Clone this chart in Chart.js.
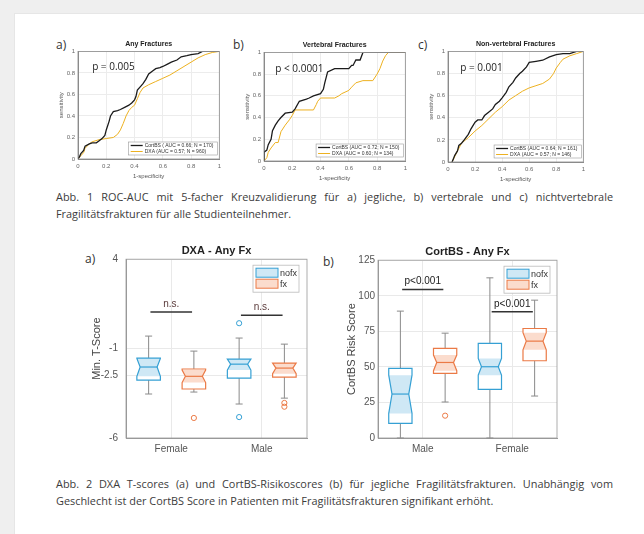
<!DOCTYPE html>
<html>
<head>
<meta charset="utf-8">
<script src="https://cdn.jsdelivr.net/npm/chart.js@4.4.0/dist/chart.umd.min.js"></script>
<style>
  body { margin:0; width:644px; height:534px; overflow:hidden; position:relative; background:#efefef; font-family:"Open Sans", sans-serif; }
  #page { position:absolute; left:14px; top:13px; width:640px; height:530px; background:#fff; border-left:1px solid #e6e6e6; border-top:1px solid #e6e6e6; }
  canvas { position:absolute; }
  .lbl { position:absolute; font-size:12px; line-height:14px; color:#333; }
  .cap { position:absolute; left:56px; width:557px; font-size:10.9px; line-height:17px; color:#3c3c3c; }
  .cap .full { text-align:justify; text-align-last:justify; }
</style>
</head>
<body>
<div id="page"></div>

<div class="lbl" style="left:56px;top:38px">a)</div>
<div class="lbl" style="left:233px;top:38px">b)</div>
<div class="lbl" style="left:418px;top:38px">c)</div>
<canvas id="rocA" width="170" height="142" style="left:55px;top:40px;width:170px;height:142px"></canvas>
<canvas id="rocB" width="170" height="143" style="left:241px;top:41px;width:170px;height:143px"></canvas>
<canvas id="rocC" width="164" height="145" style="left:425px;top:40px;width:164px;height:145px"></canvas>

<div class="cap" style="top:188px">
  <div class="full">Abb. 1 ROC-AUC mit 5-facher Kreuzvalidierung für a) jegliche, b) vertebrale und c) nichtvertebrale</div>
  <div>Fragilitätsfrakturen für alle Studienteilnehmer.</div>
</div>

<div class="lbl" style="left:85px;top:252px">a)</div>
<div class="lbl" style="left:323px;top:255px">b)</div>
<canvas id="boxDxa" width="226" height="218" style="left:86px;top:244px;width:226px;height:218px"></canvas>
<canvas id="boxCort" width="221" height="217" style="left:341px;top:245px;width:221px;height:217px"></canvas>

<div class="cap" style="top:475px">
  <div class="full">Abb. 2 DXA T-scores (a) und CortBS-Risikoscores (b) für jegliche Fragilitätsfrakturen. Unabhängig vom</div>
  <div>Geschlecht ist der CortBS Score in Patienten mit Fragilitätsfrakturen signifikant erhöht.</div>
</div>

<script>
// ---- ROC data ----
const rocTitles = ['Any Fractures', 'Vertebral Fractures', 'Non-vertebral Fractures'];
const rocPText = ['p = 0.005', 'p < 0.0001', 'p = 0.001'];
const cortLabels = ['CortBS ( AUC = 0.66; N = 170)', 'CortBS (AUC = 0.72; N = 150)', 'CortBS (AUC = 0.64; N = 161)'];
const dxaLabels = ['DXA (AUC = 0.57; N = 960)', 'DXA (AUC = 0.60; N = 134)', 'DXA (AUC = 0.57; N = 146)'];

const anyCortX = [0, 0.01, 0.02, 0.04, 0.05, 0.08, 0.1, 0.13, 0.15, 0.17, 0.19, 0.2, 0.22, 0.23, 0.25, 0.28, 0.3, 0.33, 0.36, 0.38, 0.4, 0.41, 0.42, 0.44, 0.46, 0.48, 0.5, 0.53, 0.55, 0.58, 0.6, 0.63, 0.66, 0.7, 0.73, 0.77, 0.8, 0.85, 0.88, 0.95, 1];
const anyCortY = [0, 0.02, 0.05, 0.08, 0.12, 0.14, 0.15, 0.15, 0.17, 0.19, 0.22, 0.27, 0.35, 0.4, 0.44, 0.45, 0.46, 0.48, 0.5, 0.52, 0.55, 0.58, 0.64, 0.67, 0.7, 0.74, 0.79, 0.82, 0.84, 0.85, 0.86, 0.88, 0.9, 0.92, 0.95, 0.96, 0.97, 0.98, 1, 1, 1];
const anyDxaX = [0, 0.02, 0.04, 0.05, 0.08, 0.1, 0.15, 0.2, 0.25, 0.28, 0.3, 0.32, 0.34, 0.36, 0.38, 0.4, 0.42, 0.44, 0.46, 0.5, 0.55, 0.6, 0.65, 0.7, 0.75, 0.8, 0.85, 0.9, 0.95, 1];
const anyDxaY = [0, 0.03, 0.06, 0.1, 0.14, 0.16, 0.18, 0.19, 0.2, 0.23, 0.27, 0.33, 0.4, 0.45, 0.48, 0.5, 0.56, 0.62, 0.66, 0.69, 0.72, 0.75, 0.78, 0.82, 0.86, 0.9, 0.94, 0.97, 0.99, 1];

const vertCortX = [0, 0, 0.02, 0.03, 0.05, 0.06, 0.08, 0.1, 0.12, 0.15, 0.2, 0.22, 0.25, 0.3, 0.32, 0.35, 0.4, 0.42, 0.43, 0.45, 0.5, 0.6, 0.62, 0.63, 0.65, 0.68, 0.7, 1];
const vertCortY = [0, 0.08, 0.1, 0.15, 0.2, 0.28, 0.33, 0.37, 0.4, 0.44, 0.45, 0.48, 0.55, 0.57, 0.58, 0.6, 0.62, 0.66, 0.72, 0.82, 0.85, 0.85, 0.88, 0.88, 0.93, 0.93, 1, 1];
const vertDxaX = [0, 0.02, 0.03, 0.05, 0.08, 0.1, 0.12, 0.15, 0.18, 0.2, 0.22, 0.35, 0.37, 0.38, 0.4, 0.5, 0.53, 0.55, 0.6, 0.62, 0.65, 0.7, 0.77, 0.8, 0.82, 0.84, 0.86, 0.88, 1];
const vertDxaY = [0, 0.03, 0.08, 0.12, 0.17, 0.17, 0.27, 0.33, 0.38, 0.42, 0.47, 0.47, 0.52, 0.55, 0.58, 0.58, 0.6, 0.62, 0.65, 0.68, 0.72, 0.74, 0.74, 0.8, 0.85, 0.92, 0.97, 1, 1];

const nonvCortX = [0.03, 0.04, 0.05, 0.07, 0.08, 0.1, 0.12, 0.15, 0.17, 0.2, 0.22, 0.25, 0.27, 0.3, 0.33, 0.35, 0.38, 0.4, 0.43, 0.45, 0.48, 0.5, 0.53, 0.55, 0.58, 0.6, 0.65, 0.7, 0.75, 0.8, 0.85, 0.9, 0.95, 1];
const nonvCortY = [0, 0.03, 0.06, 0.1, 0.15, 0.17, 0.2, 0.25, 0.3, 0.36, 0.38, 0.38, 0.42, 0.45, 0.48, 0.52, 0.55, 0.58, 0.63, 0.68, 0.72, 0.76, 0.8, 0.82, 0.86, 0.9, 0.91, 0.92, 0.95, 0.97, 0.98, 0.98, 1, 1];
const nonvDxaX = [0.03, 0.05, 0.07, 0.1, 0.13, 0.15, 0.2, 0.25, 0.3, 0.35, 0.4, 0.45, 0.5, 0.55, 0.6, 0.65, 0.7, 0.75, 0.78, 0.8, 0.83, 0.85, 0.9, 0.95, 1];
const nonvDxaY = [0, 0.05, 0.1, 0.17, 0.2, 0.22, 0.28, 0.33, 0.39, 0.45, 0.5, 0.56, 0.6, 0.64, 0.67, 0.69, 0.71, 0.75, 0.8, 0.85, 0.9, 0.93, 0.96, 0.98, 1];

// ---- boxplot data: [lower whisker, q1, median, q3, upper whisker] ----
const groupNames = ['nofx', 'fx'];
const dxaCats = ['Female', 'Male'];
const dxaTicks = [4, -1, -2.5, -6];
const dxaNofx = [[-3.54, -2.76, -2.03, -1.53, -0.3], [-4.1, -2.65, -1.87, -1.59, -0.41]];
const dxaFx = [[-3.43, -3.26, -2.55, -2.14, -1.14], [-3.77, -2.59, -2.09, -1.81, -0.75]];
const dxaNofxNotch = [[-2.55, -1.55], [-2.2, -1.59]];
const dxaFxNotch = [[-2.9, -2.2], [-2.4, -1.81]];
const dxaNofxOut = [[], [0.42, -4.83]];
const dxaFxOut = [[-4.88], [-4.04, -4.25]];
const dxaSigY = [1.04, 0.87];
const dxaSigText = ['n.s.', 'n.s.'];

const cortCats = ['Male', 'Female'];
const cortTicks = [0, 25, 50, 75, 100, 125];
const cortNofx = [[0, 10.3, 30.9, 48.9, 89.2], [0, 34.2, 50.1, 66.5, 112.6]];
const cortFx = [[25.3, 45.4, 53.1, 63.0, 73.7], [29.5, 54.3, 68.1, 77.0, 96.9]];
const cortNofxNotch = [[17.3, 44.2], [44.2, 55.9]];
const cortFxNotch = [[47.3, 58.3], [62, 74]];
const cortNofxOut = [[], []];
const cortFxOut = [[15.7], []];
const cortSigY = [104.4, 88.7];
const cortSigText = ['p<0.001', 'p<0.001'];

const blue = '#35a0d4', blueFill = '#cfe8f5';
const orange = '#eb7a46', orangeFill = '#fbdccd';

Chart.defaults.font.family = '"Liberation Sans", Arial, sans-serif';
Chart.defaults.color = '#555';

function zip(xs, ys) { return xs.map((x, i) => ({x: x, y: ys[i]})); }

// frame around the plot area (matlab "box on")
const frame = {
  id: 'frame',
  afterDatasetsDraw(chart, args, o) {
    const a = chart.chartArea, ctx = chart.ctx;
    ctx.save();
    ctx.strokeStyle = o.color || '#888';
    ctx.lineWidth = 0.8;
    ctx.strokeRect(a.left, a.top, a.right - a.left, a.bottom - a.top);
    ctx.restore();
  }
};

// p-value text and legend inside the roc plots
const rocExtras = {
  id: 'rocExtras',
  afterDatasetsDraw(chart, args, o) {
    const {ctx, chartArea: a, scales: {x, y}} = chart;
    ctx.save();
    ctx.font = '10px "Open Sans"';
    ctx.fillStyle = '#222';
    ctx.textBaseline = 'middle';
    ctx.fillText(o.p, x.getPixelForValue(o.px), y.getPixelForValue(0.85));
    ctx.font = '5px "Liberation Sans"';
    const ds = chart.data.datasets;
    const w = Math.max(...ds.map(d => ctx.measureText(d.label).width)) + 20;
    const h = 13;
    const L = a.right - 2 - w, T = a.bottom - 4 - h;
    ctx.fillStyle = '#fff';
    ctx.fillRect(L, T, w, h);
    ctx.strokeStyle = '#999';
    ctx.lineWidth = 0.6;
    ctx.strokeRect(L, T, w, h);
    ds.forEach((d, i) => {
      const yy = T + 3.5 + i * 6;
      ctx.strokeStyle = d.borderColor;
      ctx.lineWidth = d.borderWidth;
      ctx.beginPath(); ctx.moveTo(L + 2, yy); ctx.lineTo(L + 14, yy); ctx.stroke();
      ctx.fillStyle = '#333';
      ctx.fillText(d.label, L + 16, yy);
    });
    ctx.restore();
  }
};

const shortNum = v => String(+Number(v).toFixed(1));

function makeRoc(id, i, cx, cy, dx, dy, px) {
  new Chart(document.getElementById(id), {
    type: 'line',
    data: {
      datasets: [
        {label: cortLabels[i], data: zip(cx, cy), borderColor: '#1c1c1c', borderWidth: 1.3, pointRadius: 0, tension: 0},
        {label: dxaLabels[i], data: zip(dx, dy), borderColor: '#edb120', borderWidth: 1, pointRadius: 0, tension: 0}
      ]
    },
    options: {
      responsive: false,
      animation: false,
      layout: {padding: {top: 0, right: 4, bottom: 0, left: 0}},
      plugins: {
        legend: {display: false},
        tooltip: {enabled: false},
        title: {display: true, fullSize: false, text: rocTitles[i], font: {size: 7, weight: 'bold'}, color: '#222', padding: {top: 0, bottom: 3}},
        frame: {color: '#8a8a8a'},
        rocExtras: {p: rocPText[i], px: px}
      },
      scales: {
        x: {
          type: 'linear', min: 0, max: 1,
          ticks: {stepSize: 0.2, callback: shortNum, font: {size: 6}, color: '#666', maxRotation: 0, padding: 4},
          grid: {color: '#ececec', drawTicks: false},
          border: {color: '#8a8a8a'},
          title: {display: true, text: '1-specificity', font: {size: 6}, color: '#555', padding: {top: 0, bottom: 2}},
          afterFit: s => { s.height = 23; }
        },
        y: {
          type: 'linear', min: 0, max: 1,
          ticks: {stepSize: 0.2, callback: shortNum, font: {size: 6}, color: '#666', padding: 3},
          grid: {color: '#ececec', drawTicks: false},
          border: {color: '#8a8a8a'},
          title: {display: true, text: 'sensitivity', font: {size: 6}, color: '#555', padding: {top: 3, bottom: 0}},
          afterFit: s => { s.width = 23; }
        }
      }
    },
    plugins: [frame, rocExtras]
  });
}

makeRoc('rocA', 0, anyCortX, anyCortY, anyDxaX, anyDxaY, 0.1);
makeRoc('rocB', 1, vertCortX, vertCortY, vertDxaX, vertDxaY, 0.08);
makeRoc('rocC', 2, nonvCortX, nonvCortY, nonvDxaX, nonvDxaY, 0.09);

// notched boxes, significance bars and legend
const boxes = {
  id: 'boxes',
  beforeDatasetsDraw(chart, args, o) {
    const {ctx, scales: {x, y}} = chart;
    ctx.save();
    o.series.forEach(s => {
      s.stats.forEach((st, i) => {
        const c = i + 1 + s.offset;
        const [lo, q1, med, q3, hi] = st.map(v => y.getPixelForValue(v));
        const nlo = y.getPixelForValue(s.notch[i][0]), nhi = y.getPixelForValue(s.notch[i][1]);
        const cx = x.getPixelForValue(c);
        const L = x.getPixelForValue(c - o.half), R = x.getPixelForValue(c + o.half);
        const ind = (R - L) * 0.14;
        const cap = (R - L) * 0.15;
        // whiskers
        ctx.strokeStyle = '#8a8a8a';
        ctx.lineWidth = 1;
        ctx.beginPath();
        ctx.moveTo(cx, q3); ctx.lineTo(cx, hi);
        ctx.moveTo(cx, q1); ctx.lineTo(cx, lo);
        ctx.moveTo(cx - cap, hi); ctx.lineTo(cx + cap, hi);
        ctx.moveTo(cx - cap, lo); ctx.lineTo(cx + cap, lo);
        ctx.stroke();
        // box outline path
        const outline = () => {
          ctx.beginPath();
          ctx.moveTo(L, q3); ctx.lineTo(R, q3); ctx.lineTo(R, nhi); ctx.lineTo(R - ind, med);
          ctx.lineTo(R, nlo); ctx.lineTo(R, q1); ctx.lineTo(L, q1); ctx.lineTo(L, nlo);
          ctx.lineTo(L + ind, med); ctx.lineTo(L, nhi); ctx.closePath();
        };
        outline();
        ctx.fillStyle = '#fff';
        ctx.fill();
        // shaded notch
        ctx.beginPath();
        ctx.moveTo(L, nhi); ctx.lineTo(R, nhi); ctx.lineTo(R - ind, med); ctx.lineTo(R, nlo);
        ctx.lineTo(L, nlo); ctx.lineTo(L + ind, med); ctx.closePath();
        ctx.fillStyle = s.fill;
        ctx.fill();
        outline();
        ctx.strokeStyle = s.color;
        ctx.lineWidth = 1.2;
        ctx.stroke();
        ctx.beginPath();
        ctx.moveTo(L + ind, med); ctx.lineTo(R - ind, med);
        ctx.stroke();
      });
    });
    ctx.restore();
  },
  afterDatasetsDraw(chart, args, o) {
    const {ctx, chartArea: a, scales: {x, y}} = chart;
    ctx.save();
    // significance bars
    o.sigY.forEach((v, i) => {
      const yy = y.getPixelForValue(v);
      const x1 = x.getPixelForValue(i + 1 - 0.23), x2 = x.getPixelForValue(i + 1 + 0.23);
      ctx.strokeStyle = '#333';
      ctx.lineWidth = 1.5;
      ctx.beginPath(); ctx.moveTo(x1, yy); ctx.lineTo(x2, yy); ctx.stroke();
      ctx.fillStyle = o.sigColor;
      ctx.font = '10px "Liberation Sans"';
      ctx.textAlign = 'center';
      ctx.textBaseline = 'bottom';
      ctx.fillText(o.sigText[i], (x1 + x2) / 2, yy - 3);
    });
    // legend
    const w = 46, h = 27;
    const L = a.right - o.legendRight - w, T = a.top + 6;
    ctx.fillStyle = '#fff';
    ctx.fillRect(L, T, w, h);
    ctx.strokeStyle = '#bbb';
    ctx.lineWidth = 0.8;
    ctx.strokeRect(L, T, w, h);
    ctx.textAlign = 'left';
    ctx.textBaseline = 'middle';
    ctx.font = '9px "Liberation Sans"';
    o.series.forEach((s, i) => {
      const py = T + 3 + i * 11;
      ctx.fillStyle = s.fill;
      ctx.fillRect(L + 3, py, 22, 9);
      ctx.strokeStyle = s.color;
      ctx.lineWidth = 1;
      ctx.strokeRect(L + 3, py, 22, 9);
      ctx.fillStyle = '#333';
      ctx.fillText(s.name, L + 27, py + 5);
    });
    ctx.restore();
  }
};

function outPoints(arr, off) {
  const pts = [];
  arr.forEach((vals, i) => vals.forEach(v => pts.push({x: i + 1 + off, y: v})));
  return pts;
}

function makeBox(id, opts) {
  new Chart(document.getElementById(id), {
    type: 'scatter',
    data: {
      datasets: [
        {label: groupNames[0], data: outPoints(opts.nofxOut, -0.25), borderColor: blue, backgroundColor: 'rgba(0,0,0,0)', pointRadius: 2.6, borderWidth: 1},
        {label: groupNames[1], data: outPoints(opts.fxOut, 0.25), borderColor: orange, backgroundColor: 'rgba(0,0,0,0)', pointRadius: 2.6, borderWidth: 1}
      ]
    },
    options: {
      responsive: false,
      animation: false,
      layout: {padding: {top: 0, right: 4, bottom: 0, left: 0}},
      plugins: {
        legend: {display: false},
        tooltip: {enabled: false},
        title: {display: true, fullSize: false, text: opts.title, font: {size: 11, weight: 'bold'}, color: '#222', padding: {top: 0, bottom: 2}},
        frame: {color: '#9a9a9a'},
        boxes: {
          half: 0.13,
          legendRight: opts.legendRight,
          sigY: opts.sigY,
          sigText: opts.sigText,
          sigColor: opts.sigColor,
          series: [
            {name: groupNames[0], stats: opts.nofx, notch: opts.nofxNotch, offset: -0.25, color: blue, fill: blueFill},
            {name: groupNames[1], stats: opts.fx, notch: opts.fxNotch, offset: 0.25, color: orange, fill: orangeFill}
          ]
        }
      },
      scales: {
        x: {
          type: 'linear', min: 0.5, max: 2.5,
          afterBuildTicks: s => { s.ticks = opts.cats.map((c, i) => ({value: i + 1})); },
          ticks: {callback: v => opts.cats[v - 1], font: {size: 10}, color: '#555', padding: 5, maxRotation: 0},
          grid: {color: '#e9e9e9', drawTicks: false},
          border: {color: '#9a9a9a'},
          afterFit: s => { s.height = 24; }
        },
        y: {
          type: 'linear', min: Math.min(...opts.ticks), max: Math.max(...opts.ticks),
          afterBuildTicks: s => { s.ticks = opts.ticks.map(v => ({value: v})); },
          ticks: {callback: v => String(v), font: {size: 10}, color: '#555', padding: opts.tickPad},
          grid: {color: '#e9e9e9', drawTicks: false},
          border: {color: '#9a9a9a'},
          title: {display: true, text: opts.yTitle, font: {size: 11}, color: '#444', padding: {top: 4, bottom: 0}},
          afterFit: s => { s.width = opts.yWidth; }
        }
      }
    },
    plugins: [boxes, frame]
  });
}

makeBox('boxDxa', {
  title: 'DXA - Any Fx', yTitle: 'Min. T-Score', cats: dxaCats, ticks: dxaTicks,
  nofx: dxaNofx, fx: dxaFx, nofxNotch: dxaNofxNotch, fxNotch: dxaFxNotch,
  nofxOut: dxaNofxOut, fxOut: dxaFxOut, sigY: dxaSigY, sigText: dxaSigText, sigColor: '#5b3b3b',
  yWidth: 40, tickPad: 8, legendRight: 8
});
makeBox('boxCort', {
  title: 'CortBS - Any Fx', yTitle: 'CortBS Risk Score', cats: cortCats, ticks: cortTicks,
  nofx: cortNofx, fx: cortFx, nofxNotch: cortNofxNotch, fxNotch: cortFxNotch,
  nofxOut: cortNofxOut, fxOut: cortFxOut, sigY: cortSigY, sigText: cortSigText, sigColor: '#222',
  yWidth: 37, tickPad: 3, legendRight: 7
});
</script>
</body>
</html>
